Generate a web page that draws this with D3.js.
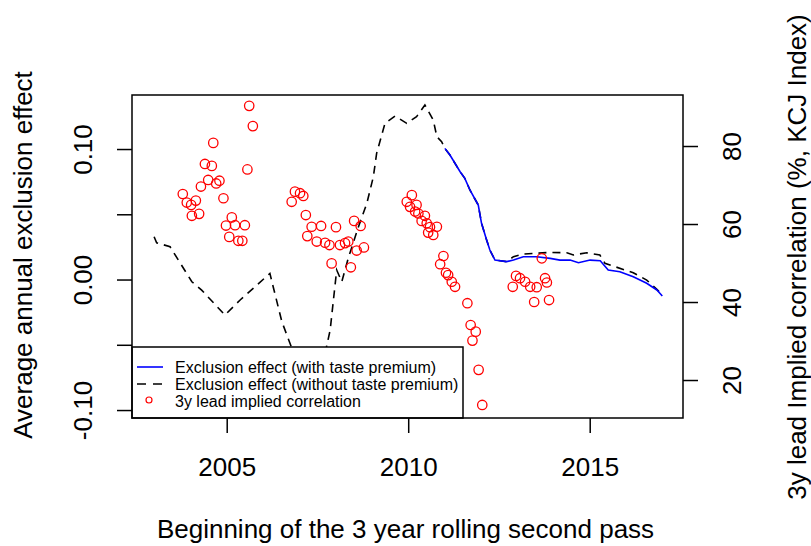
<!DOCTYPE html>
<html>
<head>
<meta charset="utf-8">
<script src="https://cdn.jsdelivr.net/npm/d3@7"></script>
<style>
  html, body { margin: 0; padding: 0; background: #fff; }
  svg { display: block; font-family: "Liberation Sans", Arial, sans-serif; }
</style>
</head>
<body>
<svg id="chart" width="811" height="546"></svg>
<script>
// ---- data ----
const withoutYears = [2003.00, 2003.07, 2003.44, 2004.04, 2004.31, 2004.95, 2005.37, 2006.19, 2006.28, 2006.52, 2006.74,
  2007.02, 2007.25, 2007.41, 2007.63, 2007.75, 2007.85, 2008.03, 2008.17, 2008.35, 2008.63, 2008.86, 2009.04, 2009.13,
  2009.36, 2009.64, 2009.96, 2010.23, 2010.46, 2010.69, 2010.79, 2010.92, 2011.01, 2011.15, 2011.43, 2011.56, 2011.70,
  2011.93, 2012.02, 2012.16, 2012.25, 2012.39, 2012.71, 2012.90, 2013.17, 2013.91, 2014.37, 2014.55, 2014.92, 2015.28,
  2015.42, 2015.65, 2016.20, 2016.57, 2016.85, 2017.00];
const withoutValues = [0.0328, 0.0282, 0.0251, -0.0017, -0.0081, -0.0272, -0.0157, 0.0047, -0.0055, -0.0323, -0.0487,
  -0.069, -0.088, -0.097, -0.069, -0.0515, -0.0387, 0.0073, -0.0017, 0.0165, 0.0405, 0.0584, 0.0788, 0.0967,
  0.1197, 0.1253, 0.1197, 0.1248, 0.1337, 0.1222, 0.1094, 0.1056, 0.1005, 0.0954, 0.0826, 0.0775, 0.0686,
  0.0571, 0.0431, 0.0303, 0.0226, 0.0149, 0.0137, 0.0175, 0.0195, 0.0208, 0.0205, 0.0188, 0.0205, 0.0188,
  0.0124, 0.0103, 0.0052, -0.0004, -0.0075, -0.0119];

const withYears = [2011.01, 2011.15, 2011.43, 2011.56, 2011.70, 2011.93, 2012.02, 2012.16, 2012.25, 2012.39, 2012.71,
  2012.90, 2013.17, 2013.54, 2013.91, 2014.18, 2014.46, 2014.69, 2015.01, 2015.29, 2015.51, 2015.83, 2016.20, 2016.57,
  2016.85, 2017.00];
const withValues = [0.1005, 0.0954, 0.0826, 0.0775, 0.0686, 0.0571, 0.0431, 0.0303, 0.0226, 0.0149, 0.0137,
  0.0149, 0.0175, 0.0175, 0.0162, 0.0149, 0.0149, 0.0129, 0.0149, 0.0144, 0.0073, 0.0060, 0.0021, -0.0029,
  -0.0080, -0.0126];

const corrYears = [2003.79, 2003.90, 2004.02, 2004.04, 2004.15, 2004.24, 2004.29, 2004.40, 2004.49, 2004.59, 2004.63,
  2004.71, 2004.80, 2004.91, 2004.98, 2005.07, 2005.14, 2005.23, 2005.32, 2005.43, 2005.50, 2005.57, 2005.62, 2005.72,
  2006.79, 2006.88, 2007.02, 2007.11, 2007.18, 2007.22, 2007.34, 2007.48, 2007.60, 2007.71, 2007.83, 2007.89, 2008.01,
  2008.12, 2008.26, 2008.35, 2008.42, 2008.51, 2008.58, 2008.69, 2008.78,
  2009.96, 2010.05, 2010.10, 2010.19, 2010.23, 2010.28, 2010.37, 2010.46, 2010.51, 2010.55, 2010.60, 2010.69, 2010.79,
  2010.88, 2010.97, 2011.04, 2011.10, 2011.20, 2011.29, 2011.63, 2011.72, 2011.77, 2011.86, 2011.94, 2012.04,
  2012.88, 2012.97, 2013.08, 2013.22, 2013.36, 2013.47, 2013.54, 2013.68, 2013.77, 2013.82, 2013.88];
const corrValues = [67.7, 65.5, 64.9, 62.1, 66.0, 62.6, 69.6, 75.4, 71.3, 74.9, 80.8,
  70.4, 71.1, 66.6, 59.6, 56.7, 61.7, 59.7, 55.7, 55.7, 59.7, 74.0, 90.3, 85.1,
  65.7, 68.3, 67.9, 67.2, 62.3, 56.9, 59.3, 55.5, 59.5, 55.2, 54.6, 49.9, 59.2,
  54.6, 55.1, 55.5, 48.9, 60.8, 53.2, 59.5, 54.0,
  65.7, 64.4, 67.4, 63.2, 64.9, 62.7, 60.8, 62.1, 60.2, 57.8, 59.2, 57.2, 59.3,
  49.7, 51.8, 47.5, 46.9, 45.2, 43.9, 39.7, 34.1, 30.1, 32.4, 22.6, 13.6,
  43.9, 46.7, 46.1, 45.2, 43.9, 40.0, 43.8, 51.2, 46.1, 45.0, 40.5];

const xTicks = [2005, 2010, 2015];
const leftTicks = [-0.10, -0.05, 0.00, 0.05, 0.10];
const leftTickLabels = ["-0.10", "", "0.00", "", "0.10"];
const rightTicks = [20, 40, 60, 80];
const rightTickLabels = ["20", "40", "60", "80"];
const legendLabels = ["Exclusion effect (with taste premium)", "Exclusion effect (without taste premium)", "3y lead implied correlation"];
const xTitle = "Beginning of the 3 year rolling second pass";
const yLeftTitle = "Average annual exclusion effect";
const yRightTitle = "3y lead Implied correlation (%, KCJ Index)";

// ---- layout ----
const L = 132, R = 683, T = 95, B = 418;
const svg = d3.select("#chart");
const x = d3.scaleLinear().domain([2002.391, 2017.570]).range([L, R]);
const yL = d3.scaleLinear().domain([-0.1061, 0.1414]).range([B, T]);
const yR = d3.scaleLinear().domain([10.26, 93.08]).range([B, T]);

const fs = 26;

// lines
const lineWithout = d3.line().x(d => x(d[0])).y(d => yL(d[1]));
svg.append("path")
  .datum(withoutYears.map((v, i) => [v, withoutValues[i]]))
  .attr("d", lineWithout).attr("fill", "none").attr("stroke", "#000")
  .attr("stroke-width", 1.6).attr("stroke-dasharray", "8,6");
svg.append("path")
  .datum(withYears.map((v, i) => [v, withValues[i]]))
  .attr("d", lineWithout).attr("fill", "none").attr("stroke", "#0000ff")
  .attr("stroke-width", 1.6);

// circles
svg.append("g").selectAll("circle")
  .data(corrYears.map((v, i) => [v, corrValues[i]]))
  .join("circle")
  .attr("cx", d => x(d[0])).attr("cy", d => yR(d[1])).attr("r", 4.7)
  .attr("fill", "none").attr("stroke", "#ff0000").attr("stroke-width", 1.3);

// axes
function styleAxis(g) {
  g.select(".domain").remove();
  g.selectAll(".tick line").attr("stroke", "#000").attr("stroke-width", 1.5);
  g.selectAll(".tick text").attr("fill", "#000").style("font-size", fs + "px")
    .style("font-family", '"Liberation Sans", Arial, sans-serif');
}

const gx = svg.append("g").attr("transform", `translate(0,${B})`)
  .call(d3.axisBottom(x).tickValues(xTicks).tickSize(15).tickFormat(d3.format("d")));
styleAxis(gx);
gx.selectAll(".tick text").attr("y", 58).attr("dy", 0);

const gl = svg.append("g").attr("transform", `translate(${L},0)`)
  .call(d3.axisLeft(yL).tickValues(leftTicks).tickSize(15).tickFormat((d, i) => leftTickLabels[i]));
styleAxis(gl);
gl.selectAll(".tick text").attr("transform", "rotate(-90)")
  .attr("x", 0).attr("y", -40).attr("dy", 0).attr("text-anchor", "middle");

const gr = svg.append("g").attr("transform", `translate(${R},0)`)
  .call(d3.axisRight(yR).tickValues(rightTicks).tickSize(15).tickFormat((d, i) => rightTickLabels[i]));
styleAxis(gr);
gr.selectAll(".tick text").attr("transform", "rotate(-90)")
  .attr("x", 0).attr("y", 58).attr("dy", 0).attr("text-anchor", "middle");

// legend
const lg = svg.append("g");
lg.append("rect").attr("x", L).attr("y", 347).attr("width", 463 - L).attr("height", B - 347)
  .attr("fill", "#fff").attr("stroke", "#000").attr("stroke-width", 1.5);
const rowY = [367, 384, 401];
lg.append("line").attr("x1", 137).attr("x2", 163).attr("y1", rowY[0]).attr("y2", rowY[0])
  .attr("stroke", "#0000ff").attr("stroke-width", 1.6);
lg.append("line").attr("x1", 137).attr("x2", 165).attr("y1", rowY[1]).attr("y2", rowY[1])
  .attr("stroke", "#000").attr("stroke-width", 1.6).attr("stroke-dasharray", "9,7");
lg.append("circle").attr("cx", 149).attr("cy", rowY[2] - 1).attr("r", 3)
  .attr("fill", "none").attr("stroke", "#ff0000").attr("stroke-width", 1.2);
lg.selectAll("text.leg").data(legendLabels).join("text").attr("class", "leg")
  .attr("x", 175).attr("y", (d, i) => rowY[i] + 6)
  .style("font-size", "16px").attr("fill", "#000").text(d => d);

// plot box
svg.append("rect").attr("x", L).attr("y", T).attr("width", R - L).attr("height", B - T)
  .attr("fill", "none").attr("stroke", "#000").attr("stroke-width", 1.5);

// titles
svg.append("text").attr("x", (L + R) / 2 - 2).attr("y", 538).attr("text-anchor", "middle")
  .style("font-size", fs + "px").attr("fill", "#000").text(xTitle);
svg.append("text").attr("transform", "translate(32,255) rotate(-90)").attr("text-anchor", "middle")
  .style("font-size", fs + "px").attr("fill", "#000").text(yLeftTitle);
svg.append("text").attr("transform", "translate(806,257) rotate(-90)").attr("text-anchor", "middle")
  .style("font-size", fs + "px").attr("fill", "#000").text(yRightTitle);
</script>
</body>
</html>
